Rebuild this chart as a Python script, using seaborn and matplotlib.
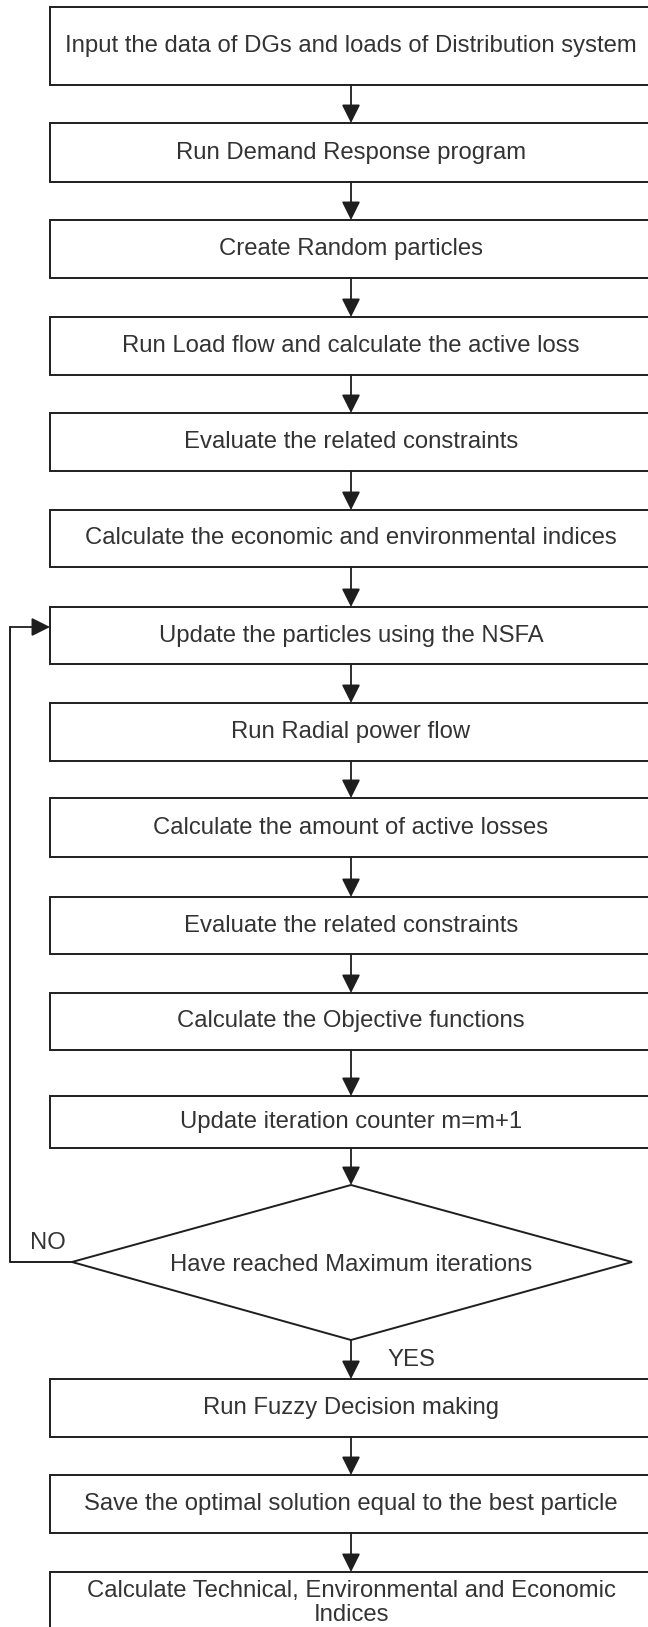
import matplotlib
matplotlib.use("Agg")
import matplotlib.pyplot as plt
from matplotlib.patches import Rectangle, Polygon
import seaborn as sns

sns.set_theme(style="white")
plt.rcParams["font.family"] = ["Liberation Sans", "DejaVu Sans"]

# flowchart steps (top to bottom)
steps = [
    "Input the data of DGs and loads of Distribution system",
    "Run Demand Response program",
    "Create Random particles",
    "Run Load flow and calculate the active loss",
    "Evaluate the related constraints",
    "Calculate the economic and environmental indices",
    "Update the particles using the NSFA",
    "Run Radial power flow",
    "Calculate the amount of active losses",
    "Evaluate the related constraints",
    "Calculate the Objective functions",
    "Update iteration counter m=m+1",
    "Run Fuzzy Decision making",
    "Save the optimal solution equal to the best particle",
    "Calculate Technical, Environmental and Economic\nIndices",
]
box_tops = [7, 123, 220, 317, 413, 510, 607, 703, 798, 897, 993, 1096, 1379, 1475, 1572]
box_bottoms = [85, 182, 278, 375, 471, 567, 664, 761, 857, 954, 1050, 1148, 1437, 1533, 1645]

decision_label = "Have reached Maximum iterations"
decision_after = 11  # diamond sits after step index 11
diamond_top, diamond_mid, diamond_bottom = 1185, 1262, 1340
diamond_left, diamond_right = 72, 632

loop_x = 10
loop_y = 627

W, H = 648, 1627
BOX_L, BOX_R, CX = 50, 652, 351
LINE = "#1e1e1e"
TXT = "#333333"
FS = 17.2

fig = plt.figure(figsize=(W / 100, H / 100), dpi=100)
ax = fig.add_axes([0, 0, 1, 1])
ax.set_xlim(0, W)
ax.set_ylim(H, 0)
ax.axis("off")


def arrow(x0, y0, x1, y1):
    ax.annotate("", xy=(x1, y1), xytext=(x0, y0),
                arrowprops=dict(arrowstyle="-|>,head_length=0.8,head_width=0.4",
                                color=LINE, lw=1.3, shrinkA=0, shrinkB=0,
                                mutation_scale=14))


for i, (label, top, bot) in enumerate(zip(steps, box_tops, box_bottoms)):
    ax.add_patch(Rectangle((BOX_L, top), BOX_R - BOX_L, bot - top,
                           facecolor="white", edgecolor=LINE, lw=1.4))
    cy = (top + bot) / 2 if i < len(steps) - 1 else top + 31
    ax.text(CX, cy, label, ha="center", va="center", fontsize=FS,
            color=TXT, linespacing=1.08)
    if i + 1 < len(steps) and i != decision_after:
        arrow(CX, bot, CX, box_tops[i + 1])

# decision diamond
ax.add_patch(Polygon([(CX, diamond_top), (diamond_right, diamond_mid),
                      (CX, diamond_bottom), (diamond_left, diamond_mid)],
                     closed=True, facecolor="white", edgecolor=LINE, lw=1.4))
ax.text(CX, diamond_mid + 3, decision_label, ha="center", va="center",
        fontsize=FS, color=TXT)
arrow(CX, box_bottoms[decision_after], CX, diamond_top)
arrow(CX, diamond_bottom, CX, box_tops[decision_after + 1])

# NO loop back to the update step
sns.lineplot(x=[diamond_left, loop_x, loop_x], y=[diamond_mid, diamond_mid, loop_y],
             sort=False, color=LINE, lw=1.4, ax=ax, estimator=None)
arrow(loop_x, loop_y, BOX_L, loop_y)

ax.text(48, diamond_mid - 19, "NO", ha="center", va="center", fontsize=FS, color=TXT)
ax.text(411, 1360, "YES", ha="center", va="center", fontsize=FS, color=TXT)

ax.set_xlim(0, W)
ax.set_ylim(H, 0)
fig.savefig("out.png", dpi=100, facecolor="white")
